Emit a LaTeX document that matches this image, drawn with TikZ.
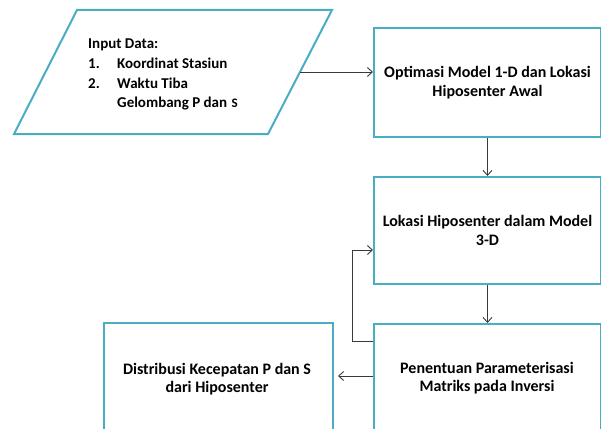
\documentclass[tikz,border=0pt]{standalone}
\usepackage{fontspec}
\setmainfont{Carlito}
\usetikzlibrary{arrows.meta}
\definecolor{boxblue}{HTML}{4BACC6}
\definecolor{linegray}{HTML}{3A3A3A}
\tikzset{
  x=1pt, y=-1pt,
  boxfont/.style={font=\bfseries\fontsize{16}{18.5}\selectfont},
  procbox/.style={draw=boxblue, line width=2pt, fill=white, minimum width=227pt, minimum height=#1, align=center, inner sep=0pt, boxfont},
  conn/.style={draw=linegray, line width=0.9pt, -{Straight Barb[length=5pt,width=9pt]}},
}
\begin{document}
\begin{tikzpicture}
\useasboundingbox (0,0) rectangle (601,428);
\clip (0,0) rectangle (601,428);
% input parallelogram
\draw[boxblue, line width=2pt, line join=miter] (77,10) -- (332,10) -- (268,134) -- (14,134) -- cycle;
\node[anchor=north west, align=left, inner sep=0pt, font=\bfseries\fontsize{15}{19.6}\selectfont] (input) at (88,39)
 {Input Data:\\
  \makebox[29pt][l]{1.}Koordinat Stasiun\\
  \makebox[29pt][l]{2.}Waktu Tiba\\
  \hspace*{29pt}Gelombang P dan\hspace{1pt} {\fontsize{13}{19.6}\selectfont S}};
\coordinate (inputR) at (300,72);
% boxes
\node[procbox=109pt, anchor=north west] (opt) at (373,27) {Optimasi Model 1-D dan Lokasi\\Hiposenter Awal};
\node[procbox=107pt, anchor=north west] (lok) at (373,176) {Lokasi Hiposenter dalam Model\\3-D};
\node[procbox=130pt, anchor=north west] (pen) at (373,323) {};
\node[boxfont, align=center] (pentext) at (487,378) {Penentuan Parameterisasi\\Matriks pada Inversi};
\node[draw=boxblue, line width=2pt, minimum width=229pt, minimum height=130pt, anchor=north west, inner sep=0pt] (dis) at (103,322) {};
\node[boxfont, align=center] (distext) at (217,379) {Distribusi Kecepatan P dan S\\dari Hiposenter};
% connectors
\draw[conn] (inputR) -- (opt.west |- inputR);
\draw[conn] (opt.south) -- (lok.north);
\draw[conn] (lok.south) -- (pen.north);
\coordinate (fbA) at (373,341);
\coordinate (fbB) at (352,341);
\draw[conn] (fbA) -- (fbB) |- (373,250);
\coordinate (leftA) at (373,376);
\coordinate (leftB) at (338,376);
\draw[conn] (leftA) -- (leftB);
\end{tikzpicture}
\end{document}
